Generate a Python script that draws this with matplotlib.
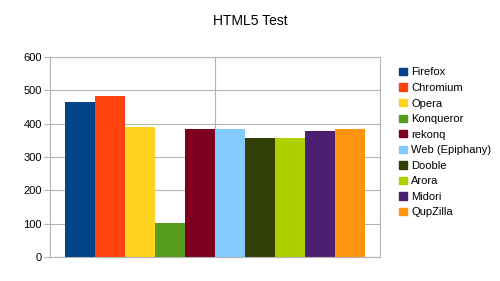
import numpy as np
import matplotlib
matplotlib.use('Agg')
import matplotlib.pyplot as plt

browsers = ['Firefox', 'Chromium', 'Opera', 'Konqueror', 'rekonq',
            'Web (Epiphany)', 'Dooble', 'Arora', 'Midori', 'QupZilla']
scores = [466, 483, 390, 103, 384, 384, 358, 358, 379, 383]
colors = ['#004586', '#ff420e', '#ffd320', '#579d1c', '#7e0021',
          '#83caff', '#314004', '#aecf00', '#4b1f6f', '#ff950e']

plt.rcParams['font.family'] = ['Liberation Sans', 'DejaVu Sans']

fig = plt.figure(figsize=(5, 2.81), dpi=100)
ax = fig.add_axes([50 / 500, 24 / 281, 330 / 500, 200 / 281])

# one category, bars packed side by side inside it
width = 30 / 330
start = -0.5 + 15 / 330
pos = start + (np.arange(len(browsers)) + 0.5) * width
bars = ax.bar(pos, scores, width=width, color=colors, label=browsers)

ax.set_xlim(-0.5, 0.5)
ax.set_ylim(0, 600)
ax.set_yticks(range(0, 601, 100))
ax.set_xticks([])
ax.axvline(0, color='#b3b3b3', lw=0.8, zorder=0)
ax.yaxis.grid(True, color='#b3b3b3', lw=0.8)
ax.set_axisbelow(True)
for s in ax.spines.values():
    s.set_color('#b3b3b3')
    s.set_linewidth(0.8)
ax.tick_params(axis='y', length=4, color='#b3b3b3', labelsize=8, pad=2)

fig.text(0.5, 0.925, 'HTML5 Test', ha='center', va='center', fontsize=10)

handles = [plt.Rectangle((0, 0), 1, 1, color=c) for c in colors]
fig.legend(handles, browsers, loc='upper left', bbox_to_anchor=(395 / 500, 1 - 63 / 281),
           frameon=False, fontsize=8, handlelength=0.65, handleheight=0.65,
           handletextpad=0.4, labelspacing=0.5, borderaxespad=0)

fig.savefig('out.png', dpi=100)
